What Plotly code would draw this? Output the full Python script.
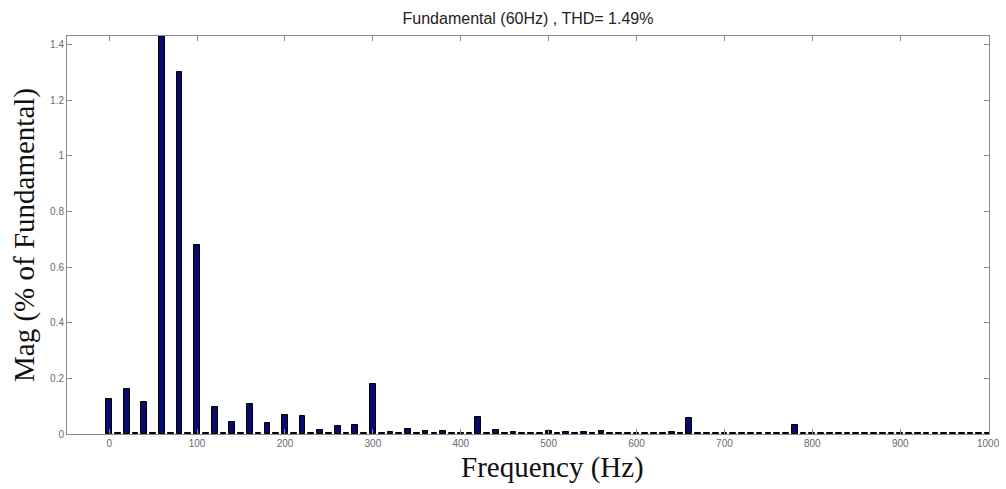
import plotly.graph_objects as go

# Harmonic spectrum, 10 Hz resolution (magnitude in % of fundamental)
freqs = list(range(0, 1001, 10))
mags = [
    0.125, 0.004, 0.163, 0.004, 0.115, 0.004, 100.0, 0.004, 1.30, 0.004,   # 0-90
    0.68, 0.004, 0.096, 0.004, 0.042, 0.004, 0.108, 0.004, 0.039, 0.004,   # 100-190
    0.069, 0.004, 0.063, 0.004, 0.015, 0.004, 0.027, 0.004, 0.033, 0.004,  # 200-290
    0.18, 0.004, 0.007, 0.004, 0.017, 0.004, 0.012, 0.004, 0.012, 0.004,   # 300-390
    0.004, 0.004, 0.062, 0.004, 0.015, 0.004, 0.009, 0.004, 0.004, 0.004,  # 400-490
    0.011, 0.004, 0.008, 0.004, 0.006, 0.004, 0.010, 0.004, 0.004, 0.004,  # 500-590
    0.004, 0.004, 0.004, 0.004, 0.006, 0.004, 0.056, 0.004, 0.004, 0.004,  # 600-690
    0.004, 0.004, 0.004, 0.004, 0.004, 0.004, 0.004, 0.004, 0.034, 0.004,  # 700-790
    0.004, 0.004, 0.004, 0.004, 0.004, 0.004, 0.004, 0.004, 0.004, 0.004,  # 800-890
    0.004, 0.004, 0.004, 0.004, 0.004, 0.004, 0.004, 0.004, 0.004, 0.004,  # 900-990
    0.004,                                                                  # 1000
]

x_ticks = list(range(0, 1001, 100))
y_ticks = [0, 0.2, 0.4, 0.6, 0.8, 1.0, 1.2, 1.4]
y_labels = ["0", "0.2", "0.4", "0.6", "0.8", "1", "1.2", "1.4"]

fig = go.Figure(
    go.Bar(
        x=freqs,
        y=mags,
        width=6.5,
        marker=dict(color="#0a0a6c", line=dict(color="#000000", width=1)),
    )
)

axis_common = dict(
    showline=True,
    linecolor="#8a8a8a",
    linewidth=1,
    mirror="ticks",
    ticks="inside",
    ticklen=5,
    tickcolor="#8a8a8a",
    showgrid=False,
    zeroline=False,
    automargin=False,
    tickfont=dict(family="Liberation Sans, Arial, sans-serif", size=10, color="#6a6a6a"),
)

serif = "Liberation Serif, Times New Roman, serif"

fig.update_layout(
    width=1006,
    height=489,
    margin=dict(l=67, r=17, t=36, b=55),
    paper_bgcolor="white",
    plot_bgcolor="white",
    showlegend=False,
    bargap=0,
    title=dict(
        text="Fundamental (60Hz) , THD= 1.49%",
        x=0.5,
        xanchor="center",
        xref="paper",
        y=0.963,
        yanchor="middle",
        font=dict(family="Liberation Sans, Arial, sans-serif", size=16, color="#222222"),
    ),
    xaxis=dict(range=[-48, 1001], tickvals=x_ticks, **axis_common),
    yaxis=dict(
        range=[0, 1.43],
        tickvals=y_ticks,
        ticktext=y_labels,
        title=dict(
            text="Mag (% of Fundamental)",
            font=dict(family=serif, size=29, color="#111111"),
            standoff=6,
        ),
        **axis_common,
    ),
    annotations=[
        dict(
            text="Frequency (Hz)",
            xref="paper",
            yref="paper",
            x=0.527,
            y=0,
            yshift=-33,
            xanchor="center",
            yanchor="middle",
            showarrow=False,
            font=dict(family=serif, size=29, color="#111111"),
        )
    ],
)

fig.write_html("out.html")
